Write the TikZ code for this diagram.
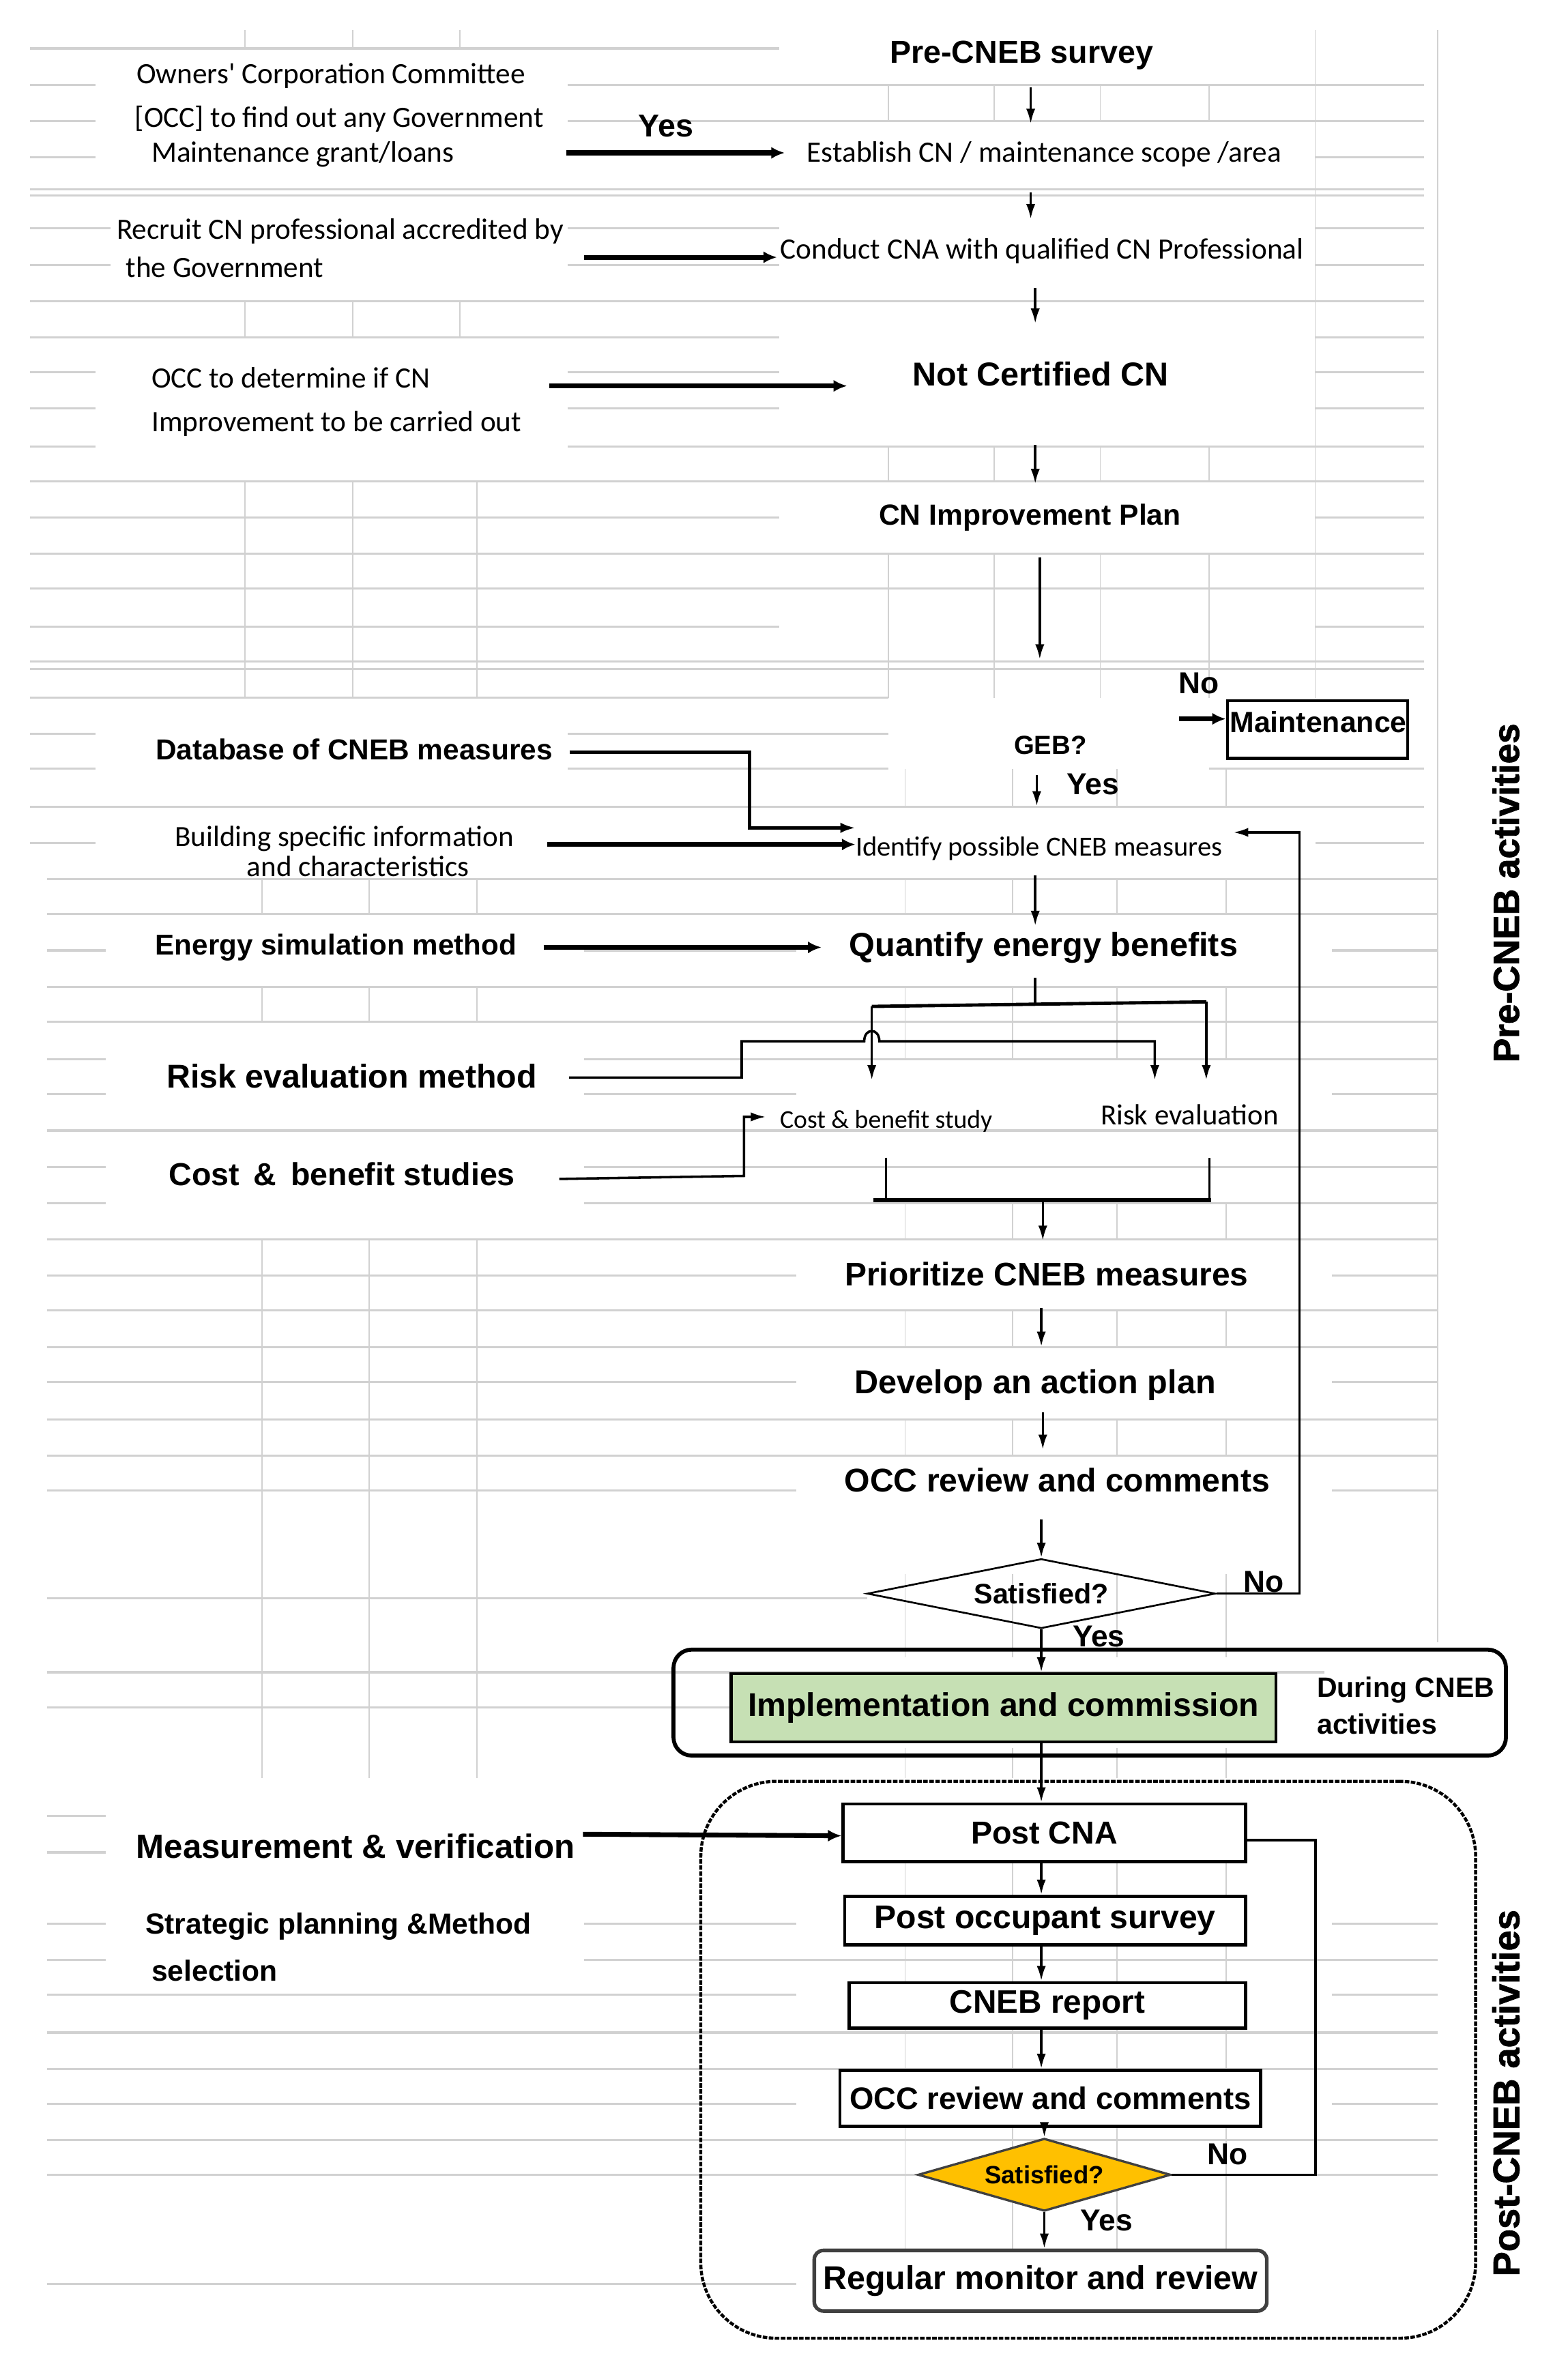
\documentclass[tikz,border=0pt]{standalone}
\usepackage{fontspec}
\setmainfont{Liberation Sans}
\newfontfamily\carlito{Carlito}
\newfontfamily\heavyfont{Liberation Sans}[BoldFeatures={FakeBold=1.5}]
\usetikzlibrary{arrows.meta,shapes.geometric,calc}
\definecolor{gridc}{gray}{0.82}
\definecolor{implgreen}{RGB}{198,224,180}
\definecolor{satyellow}{RGB}{255,192,0}
\tikzset{
  bt/.style={font=\bfseries\fontsize{#1}{#1}\selectfont, inner sep=0pt, execute at begin node={\rule[-0.21em]{0pt}{1.136em}}},
  bt/.default=21.5,
  ct/.style={font=\carlito\fontsize{#1}{#1}\selectfont, inner sep=0pt, execute at begin node={\rule[-0.21em]{0pt}{1.052em}}},
  ct/.default=19.5,
  arr/.style={line width=1.6pt, -{Latex[length=10pt,width=6pt]}},
  tarr/.style={line width=3.2pt, -{Latex[length=9pt,width=8pt]}},
  conn/.style={line width=1.6pt},
  gridh/.style={draw=gridc, line width=1.4pt},
  gridv/.style={draw=gridc, line width=0.8pt},
  pbox/.style={draw, line width=2pt, fill=white, inner sep=0pt},
}
\begin{document}
\begin{tikzpicture}[x=1pt,y=-1pt]
\fill[white] (0,0) rectangle (1036,1568);
\useasboundingbox (0,0) rectangle (1036,1568);

% ---------- spreadsheet grid ----------
\draw[gridh]
 (20,32)--(515,32)
 (20,56)--(63,56) (375,56)--(941,56)
 (20,80)--(63,80) (375,80)--(941,80)
 (20,104)--(63,104) (869,104)--(941,104)
 (20,125)--(941,125) (20,129)--(941,129)
 (20,151)--(73,151) (375,151)--(515,151) (869,151)--(941,151)
 (20,175)--(73,175) (375,175)--(515,175) (869,175)--(941,175)
 (20,199)--(941,199)
 (20,223)--(515,223) (869,223)--(941,223)
 (20,246)--(63,246) (375,246)--(515,246) (869,246)--(941,246)
 (20,270)--(63,270) (375,270)--(515,270) (869,270)--(941,270)
 (20,295)--(63,295) (375,295)--(941,295)
 (20,318)--(941,318)
 (20,342)--(515,342) (869,342)--(941,342)
 (20,366)--(941,366)
 (20,389)--(941,389)
 (20,414)--(515,414) (869,414)--(941,414)
 (20,437)--(941,437) (20,442)--(941,442)
 (20,461)--(587,461)
 (20,485)--(63,485) (375,485)--(587,485)
 (20,508)--(63,508) (375,508)--(587,508) (799,508)--(941,508)
 (20,533)--(941,533)
 (20,557)--(63,557) (375,557)--(515,557) (869,557)--(941,557)
 (31,581)--(950,581)
 (31,604)--(950,604)
 (31,628)--(70,628) (386,628)--(526,628) (880,628)--(950,628)
 (31,652)--(950,652)
 (31,675)--(950,675)
 (31,700)--(70,700) (386,700)--(950,700)
 (31,723)--(70,723) (386,723)--(526,723) (880,723)--(950,723)
 (31,747)--(950,747)
 (31,771)--(70,771) (386,771)--(950,771)
 (31,795)--(70,795) (386,795)--(950,795)
 (31,819)--(950,819)
 (31,843)--(526,843) (880,843)--(950,843)
 (31,866)--(950,866)
 (31,890)--(950,890)
 (31,913)--(526,913) (880,913)--(950,913)
 (31,938)--(950,938)
 (31,962)--(950,962)
 (31,985)--(526,985) (880,985)--(950,985)
 (31,1056)--(573,1056)
 (31,1105)--(875,1105)
 (31,1128)--(483,1128)
 (31,1200)--(70,1200)
 (31,1224)--(70,1224)
 (31,1271)--(70,1271) (386,1271)--(526,1271) (880,1271)--(950,1271)
 (31,1295)--(70,1295) (386,1295)--(950,1295)
 (31,1318)--(526,1318) (880,1318)--(950,1318)
 (31,1343)--(950,1343)
 (31,1367)--(950,1367)
 (31,1390)--(526,1390) (880,1390)--(950,1390)
 (31,1414)--(950,1414)
 (31,1437)--(950,1437)
 (31,1509)--(526,1509);
\foreach \gx in {162,233,304} {\draw[gridv] (\gx,20)--(\gx,32) (\gx,199)--(\gx,223);}
\foreach \gx in {162,233,315} {\draw[gridv] (\gx,318)--(\gx,461);}
\foreach \gx in {173,244,315} {\draw[gridv] (\gx,581)--(\gx,604) (\gx,652)--(\gx,675) (\gx,819)--(\gx,1175);}
\foreach \gx in {587,657,727,799} {\draw[gridv] (\gx,56)--(\gx,80) (\gx,295)--(\gx,318) (\gx,366)--(\gx,461);}
\foreach \gx in {598,669,738,810} {\draw[gridv] (\gx,508)--(\gx,533) (\gx,581)--(\gx,604) (\gx,652)--(\gx,700) (\gx,795)--(\gx,819) (\gx,866)--(\gx,890) (\gx,938)--(\gx,962) (\gx,1040)--(\gx,1095) (\gx,1155)--(\gx,1175) (\gx,1224)--(\gx,1487);}
\draw[gridv] (869,20)--(869,461) (950,20)--(950,1085);

% ---------- column coordinates ----------
\coordinate (c681) at (681,0);
\coordinate (c684) at (684,0);
\coordinate (c685) at (685,0);
\coordinate (c687) at (687,0);
\coordinate (c688) at (688,0);
\coordinate (c689) at (689,0);

% ---------- upper flow ----------
\node[bt=21] (pre) at (675,34) {Pre-CNEB survey};
\node[ct] (est) at (690,101) {Establish CN / maintenance scope /area};
\node[ct, anchor=west] (owl1) at (90,49) {Owners' Corporation Committee};
\node[ct, anchor=west] (owl2) at (89,78) {[OCC] to find out any Government};
\node[ct, anchor=west] (owl3) at (100,101) {Maintenance grant/loans};
\node[bt=21] (yes1) at (440,83) {Yes};
\node[ct, anchor=west] (rec1) at (77,152) {Recruit CN professional accredited by};
\node[ct, anchor=west] (rec2) at (83,177) {the Government};
\node[ct] (cna) at (688.5,165) {Conduct CNA with qualified CN Professional};
\node[ct, anchor=west] (det1) at (100,250) {OCC to determine if CN};
\node[ct, anchor=west] (det2) at (100,279) {Improvement to be carried out};
\node[bt=21.9] (ncc) at (687.5,247) {Not Certified CN};
\node[bt=19.2] (imp) at (680.5,340) {CN Improvement Plan};
\node[bt=20] (no1) at (792,451) {No};
\node[draw, line width=2pt, fill=white, minimum width=119pt, minimum height=38pt, inner sep=0pt] (maintbox) at (870.5,482) {};
\node[bt=19.3] (maint) at (871,477) {Maintenance};
\node[bt=17.3] (geb) at (694,492) {GEB?};
\node[bt=20] (yes2) at (722,518) {Yes};
\node[ct=18.3] (idn) at (686.5,560) {Identify possible CNEB measures};
\node[bt=19.1] (db) at (234,495) {Database of CNEB measures};
\node[ct=19.4] (bsi1) at (227.5,553) {Building specific information};
\node[ct=19.4] (bsi2) at (236.5,573) {and characteristics};
\node[bt=21.9] (qeb) at (689.5,624) {Quantify energy benefits};
\node[bt=19] (esm) at (222,624) {Energy simulation method};
\node[bt=21.8] (rem) at (232.5,711) {Risk evaluation method};
\node[bt=21] (cbs) at (226,776) {Cost \,\& \,benefit studies};
\node[ct=17] (cbst) at (585.5,740) {Cost \& benefit study};
\node[ct=19.3] (rev) at (786,737) {Risk evaluation};
\node[bt=21.6] (pri) at (691.5,842) {Prioritize CNEB measures};
\node[bt=21.9] (dev) at (684,913) {Develop an action plan};
\node[bt=21.7] (occr) at (698.5,978) {OCC review and comments};
\node[diamond, draw, line width=1.2pt, aspect=5, minimum width=230pt, minimum height=46pt, inner sep=0pt, font=\bfseries\fontsize{18.6}{18.6}\selectfont] (sat1) at (688,1053) {Satisfied?};
\node[bt=20] (no2) at (835,1045) {No};
\node[bt=20] (yes3) at (726,1081) {Yes};

% ---------- during ----------
\node[draw, line width=2.6pt, rounded corners=12pt, minimum width=550pt, minimum height=70pt] (during) at (720,1125) {};
\node[draw, line width=2pt, fill=implgreen, minimum width=360pt, minimum height=45pt, inner sep=0pt, font=\bfseries\fontsize{21.7}{21.7}\selectfont] (impl) at (663,1128.5) {Implementation and commission};
\node[font=\bfseries\fontsize{18.5}{24}\selectfont, align=left, anchor=west, inner sep=0pt] (durtxt) at (870,1127) {During CNEB\\activities};

% ---------- post ----------
\node[draw, line width=2pt, dash pattern=on 3pt off 1pt, rounded corners=50pt, minimum width=512pt, minimum height=368pt] (postbox) at (719,1361) {};
\node[pbox, minimum width=266pt, minimum height=38pt, font=\bfseries\fontsize{21}{21}\selectfont] (postcna) at (690,1211) {\raisebox{-2pt}{Post CNA}};
\node[bt=22.2] (mv) at (235,1220) {Measurement \& verification};
\node[pbox, minimum width=265pt, minimum height=32pt, font=\bfseries\fontsize{21.7}{21.7}\selectfont] (pos) at (690.5,1269) {\raisebox{-2pt}{Post occupant survey}};
\node[bt=19.2, anchor=west] (spm1) at (96,1271) {Strategic planning \&Method};
\node[bt=19.2, anchor=west] (spm2) at (100,1302) {selection};
\node[pbox, minimum width=262pt, minimum height=30pt, font=\bfseries\fontsize{21.5}{21.5}\selectfont] (cneb) at (692,1325) {\raisebox{-1pt}{CNEB report}};
\node[pbox, minimum width=278pt, minimum height=37pt, font=\bfseries\fontsize{20.5}{20.5}\selectfont] (occbox) at (694,1386.5) {\raisebox{-1pt}{OCC review and comments}};
\node[diamond, draw=black!75, line width=1.5pt, fill=satyellow, aspect=3.48, minimum width=167pt, minimum height=48pt, inner sep=0pt, font=\bfseries\fontsize{16.5}{16.5}\selectfont] (sat2) at (690,1437) {Satisfied?};
\node[bt=20] (no3) at (811,1423) {No};
\node[bt=20] (yes4) at (731,1467) {Yes};
\node[pbox, draw=black!75, line width=2.4pt, rounded corners=6pt, minimum width=299pt, minimum height=40pt, font=\bfseries\fontsize{21.8}{21.8}\selectfont] (reg) at (687.5,1507) {\raisebox{-1pt}{Regular monitor and review}};

% ---------- side labels ----------
\node[font=\heavyfont\bfseries\fontsize{24}{24}\selectfont, inner sep=0pt, rotate=90] (preact) at (995,590) {Pre-CNEB activities};
\node[font=\heavyfont\bfseries\fontsize{24.5}{24.5}\selectfont, inner sep=0pt, rotate=90] (postact) at (995,1383) {Post-CNEB activities};

% ---------- connectors ----------
\draw[arr, shorten <=11.8pt, shorten >=8.7pt] (pre.south -| c681) -- (est.north -| c681);
\draw[tarr, shorten <=74pt, shorten >=14.5pt] (owl3.east) -- (est.west |- owl3.east);
\draw[arr, shorten <=15.7pt, shorten >=9.7pt] (est.south -| c681) -- (cna.north -| c681);
\draw[tarr, shorten <=172pt, shorten >=2pt] ([yshift=7pt]rec2.east) -- ([yshift=-5pt]cna.west);
\draw[arr, shorten <=14.7pt, shorten >=20.5pt] (cna.south -| c684) -- (ncc.north -| c684);
\draw[tarr, shorten <=78.5pt, shorten >=43pt] ([yshift=-5pt]det1.east) -- ([yshift=-8pt]ncc.west);
\draw[arr, shorten <=34.5pt, shorten >=9.1pt] (ncc.south -| c684) -- (imp.north -| c684);
\draw[arr, shorten <=17pt, shorten >=46.2pt] (imp.south -| c687) -- (geb.north -| c687);
\draw[tarr, shorten <=61pt] ([yshift=17pt]geb.east) -- ([yshift=7pt]maintbox.west);
\draw[arr, shorten <=10.2pt, shorten >=17.4pt] (geb.south -| c685) -- (idn.north -| c685);
\draw[line width=2.2pt, -{Latex[length=10pt,width=7pt]}] ([shift={(11pt,-2pt)}]db.east) -- ++(119,0) |- ([yshift=13pt]idn.west);
\draw[tarr, shorten <=22pt] ([yshift=-5pt]bsi1.east) -- ([yshift=2pt]idn.west);
\draw[arr, shorten <=8.4pt, shorten >=-0.5pt] (idn.south -| c684) -- (qeb.north -| c684);
\draw[tarr, shorten <=17.7pt, shorten >=18.1pt] ([yshift=-2pt]esm.east) -- ([yshift=-2pt]qeb.west);
\draw[arr, shorten >=7pt] (sat1.east) -- ++(55,0) |- ([yshift=10pt]idn.east);

\coordinate (split) at (684,664);
\coordinate (splitL) at (576,665);
\coordinate (splitR) at (797,662);
\draw[conn, shorten <=9.5pt] (qeb.south -| split) -- (split);
\draw[line width=2.2pt] (splitL) -- (splitR);
\draw[arr, shorten >=17.1pt] (splitL) -- (cbst.north -| splitL);
\draw[arr, shorten >=12.9pt] (splitR) -- (rev.north -| splitR);
\draw[arr, shorten >=12.9pt] ([shift={(21pt,-1pt)}]rem.east) -- ++(114,0) -- ++(0,-24) -- (571,688) .. controls (571,679) and (581,679) .. (581,688) -| ([xshift=-23pt]rev.north);
\draw[arr, shorten >=9pt] ([shift={(29pt,-3pt)}]cbs.east) -- ++(122,-2) |- ([yshift=2pt]cbst.west);

\coordinate (mrg) at (689,793);
\coordinate (barL) at (577,793);
\coordinate (barR) at (800,793);
\draw[conn] ([yshift=-15.7pt]cbst.south) -- (cbst.south |- mrg);
\draw[conn] ([shift={(13pt,-17.9pt)}]rev.south) -- ++(0,28);
\draw[line width=2.4pt] (barL) -- (barR);
\draw[arr, shorten >=9.7pt] (mrg) -- (pri.north -| mrg);
\draw[arr, shorten <=9.7pt, shorten >=10.5pt] (pri.south -| c688) -- (dev.north -| c688);
\draw[arr, shorten <=7.5pt, shorten >=7.6pt] (dev.south -| c689) -- (occr.north -| c689);
\draw[arr, shorten <=13.6pt] (occr.south -| sat1.north) -- (sat1.north);
\draw[arr] (sat1.south) -- (impl.north -| sat1.south);
\draw[arr] (impl.south -| sat1.south) -- (postcna.north -| sat1.south);
\draw[tarr] ([shift={(5pt,8pt)}]mv.east) -- ([yshift=-2pt]postcna.west);
\draw[arr] (postcna.south -| c688) -- (pos.north -| c688);
\draw[arr] (pos.south -| c688) -- (cneb.north -| c688);
\draw[arr] (cneb.south -| c688) -- (occbox.north -| c688);
\draw[arr] (occbox.south -| sat2.north) -- (sat2.north);
\draw[arr] (sat2.south) -- (reg.north -| sat2.south);
\draw[conn] (sat2.east) -- ++(95,0) |- ([yshift=-5pt]postcna.east);
\end{tikzpicture}
\end{document}
